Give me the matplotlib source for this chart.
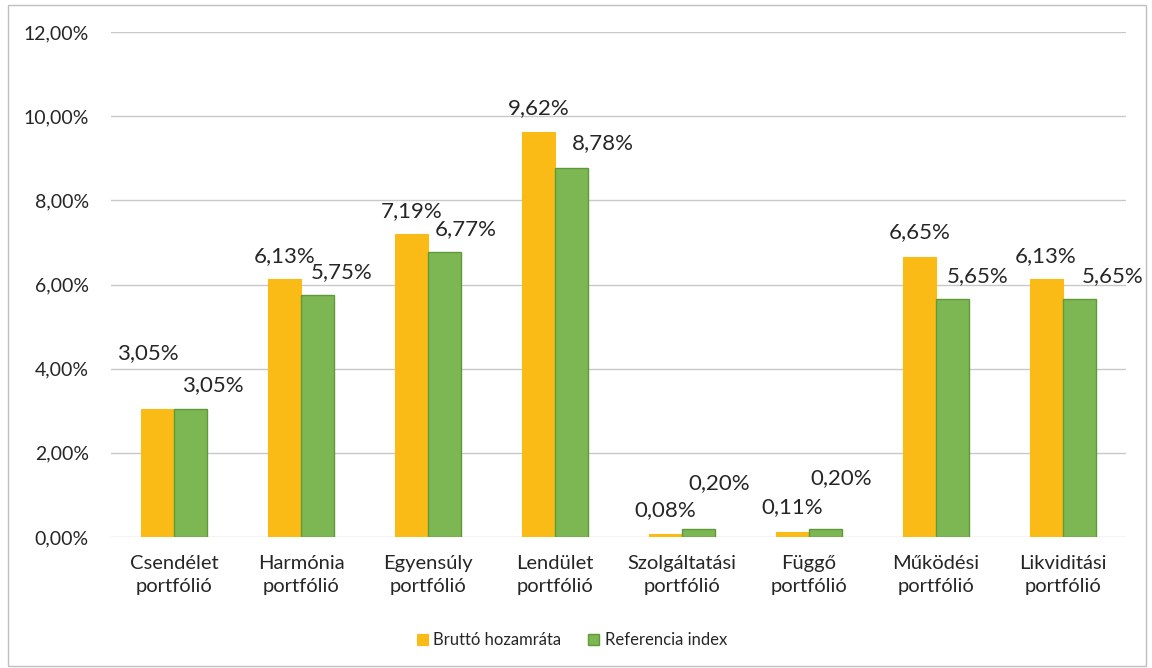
import matplotlib
matplotlib.use("Agg")
import matplotlib.pyplot as plt
from matplotlib.patches import Rectangle
import numpy as np

categories = ["Csendélet\nportfólió", "Harmónia\nportfólió", "Egyensúly\nportfólió",
              "Lendület\nportfólió", "Szolgáltatási\nportfólió", "Függő\nportfólió",
              "Működési\nportfólió", "Likviditási\nportfólió"]
brutto = [3.05, 6.13, 7.19, 9.62, 0.08, 0.11, 6.65, 6.13]
referencia = [3.05, 5.75, 6.77, 8.78, 0.20, 0.20, 5.65, 5.65]
series_names = ["Bruttó hozamráta", "Referencia index"]
yticks = [0, 2, 4, 6, 8, 10, 12]

# label offsets in pixels (style only)
off_brutto = [(-10, 56), (0, 23), (0, 23), (0, 24), (0, 24), (0, 25), (0, 25), (0, 23)]
off_ref = [(22, 24), (24, 23), (21, 23), (31, 24), (21, 45), (16, 50), (25, 23), (34, 23)]

plt.rcParams['font.family'] = ['Lato', 'DejaVu Sans']

W, H = 1152, 668
fig = plt.figure(figsize=(W / 100, H / 100), dpi=100)
ax = fig.add_axes([111 / W, (H - 537) / H, (1126 - 111) / W, (537 - 32) / H])

orange = "#FBBB17"
green = "#7DB754"
green_edge = "#5F9A3A"

x = np.arange(len(categories))
bw = 0.26
b1 = ax.bar(x - bw / 2, brutto, bw, color=orange, edgecolor=orange, linewidth=0.8,
            label=series_names[0], zorder=3)
b2 = ax.bar(x + bw / 2, referencia, bw, color=green, edgecolor=green_edge, linewidth=1.0,
            label=series_names[1], zorder=3)

def fmt(v):
    return f"{v:.2f}%".replace(".", ",")

for rects, vals, offs in ((b1, brutto, off_brutto), (b2, referencia, off_ref)):
    for r, v, (dx, dy) in zip(rects, vals, offs):
        ax.annotate(fmt(v), (r.get_x() + r.get_width() / 2, r.get_height()),
                    xytext=(dx, dy), textcoords="offset pixels",
                    ha="center", va="center", fontsize=16, color="#262626", zorder=4)

ax.set_xlim(-0.5, len(categories) - 0.5)
ax.set_ylim(0, 12)
ax.set_yticks(yticks)
ax.set_yticklabels([f"{t:.2f}%".replace(".", ",") for t in yticks], fontsize=14, color="#262626")
ax.set_xticks(x)
ax.set_xticklabels(categories, fontsize=14.5, color="#262626", linespacing=1.45)
ax.tick_params(axis="both", length=0)
ax.tick_params(axis="x", pad=13)
ax.tick_params(axis="y", pad=16)
ax.grid(axis="y", color="#C8C8C8", linewidth=1.0, zorder=0)
for s in ax.spines.values():
    s.set_visible(False)

leg = fig.legend(handles=[b1, b2], labels=series_names, loc="center",
                 bbox_to_anchor=(572 / W, 1 - 640 / H), ncol=2, frameon=False,
                 fontsize=12, handlelength=0.65, handleheight=0.65,
                 handletextpad=0.35, columnspacing=1.6)
for t in leg.get_texts():
    t.set_color("#262626")

fig.patches.append(Rectangle((8 / W, 2 / H), (1146 - 8) / W, (663 - 2) / H,
                             transform=fig.transFigure, fill=False,
                             edgecolor="#BFBFBF", linewidth=1.0))

fig.savefig("out.png", dpi=100, facecolor="white")
